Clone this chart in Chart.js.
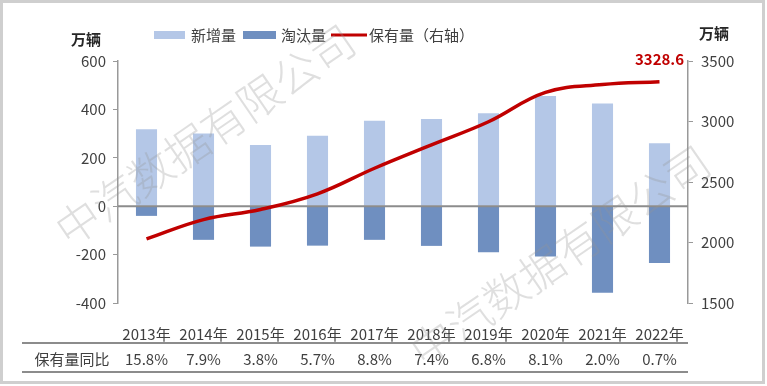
<!DOCTYPE html>
<html>
<head>
<meta charset="utf-8">
<script src="https://cdn.jsdelivr.net/npm/chart.js@4/dist/chart.umd.min.js"></script>
<style>
html,body{margin:0;padding:0;background:#fff;}
#wrap{width:767px;height:386px;position:relative;}
</style>
</head>
<body>
<div id="wrap"><canvas id="c"></canvas></div>
<script>
const years = ['2013年','2014年','2015年','2016年','2017年','2018年','2019年','2020年','2021年','2022年'];
const newAdded = [318, 300, 253, 291, 353, 360, 384, 455, 424, 260];
const retired = [-40, -139, -167, -163, -139, -164, -190, -208, -358, -235];
const stock = [2029.2, 2189.5, 2272.7, 2402.2, 2613.6, 2807.0, 2997.9, 3240.7, 3305.5, 3328.6];
const yoy = ['15.8%','7.9%','3.8%','5.7%','8.8%','7.4%','6.8%','8.1%','2.0%','0.7%'];
const seriesNames = ['新增量','淘汰量','保有量（右轴）'];
const unitLabel = '万辆';
const rowLabel = '保有量同比';
const watermark = '中汽数据有限公司';

const FONT = '"Noto Sans CJK SC", "Noto Sans", sans-serif';
const TXT = '#404040';

const extras = {
  id: 'extras',
  beforeDatasetDraw(chart, args) {
    if (args.index !== 2) return;
    const {ctx, chartArea} = chart;
    const y0 = chart.scales.y.getPixelForValue(0);
    ctx.save();
    ctx.strokeStyle = '#8c8c8c';
    ctx.lineWidth = 2;
    ctx.beginPath();
    ctx.moveTo(chartArea.left, y0);
    ctx.lineTo(chartArea.right, y0);
    ctx.stroke();
    ctx.restore();
  },
  afterDraw(chart) {
    const {ctx, chartArea} = chart;
    const xs = chart.scales.x;
    ctx.save();
    // legend
    ctx.font = '15px ' + FONT;
    ctx.textBaseline = 'middle';
    ctx.fillStyle = TXT;
    const ds = chart.data.datasets;
    const ly = 35;
    ctx.fillStyle = ds[0].backgroundColor; ctx.fillRect(154, ly - 4, 31, 8);
    ctx.fillStyle = TXT; ctx.fillText(ds[0].label, 191, ly);
    ctx.fillStyle = ds[1].backgroundColor; ctx.fillRect(243, ly - 4, 33, 8);
    ctx.fillStyle = TXT; ctx.fillText(ds[1].label, 281, ly);
    ctx.strokeStyle = ds[2].borderColor; ctx.lineWidth = 3;
    ctx.beginPath(); ctx.moveTo(331, ly); ctx.lineTo(367, ly); ctx.stroke();
    ctx.fillStyle = TXT; ctx.fillText(ds[2].label, 369, ly);
    // units
    ctx.font = 'bold 15px ' + FONT;
    ctx.fillStyle = '#262626';
    ctx.textAlign = 'center';
    ctx.fillText(unitLabel, 86, 39);
    ctx.fillText(unitLabel, 714, 33);
    // last value label
    const meta = chart.getDatasetMeta(2);
    const last = meta.data[meta.data.length - 1];
    ctx.fillStyle = '#C00000';
    ctx.font = 'bold 15px ' + FONT;
    ctx.fillText(String(stock[stock.length - 1]), last.x, last.y - 22);
    // table
    ctx.strokeStyle = '#8c8c8c';
    ctx.lineWidth = 2;
    ctx.beginPath(); ctx.moveTo(22, 343); ctx.lineTo(chartArea.right, 343); ctx.stroke();
    ctx.beginPath(); ctx.moveTo(22, 372); ctx.lineTo(chartArea.right, 372); ctx.stroke();
    ctx.font = '15px ' + FONT;
    ctx.fillStyle = TXT;
    ctx.fillText(rowLabel, 72, 359);
    yoy.forEach((v, i) => ctx.fillText(v, xs.getPixelForValue(i), 359));
    // watermark
    ctx.font = '300 44px ' + FONT;
    ctx.fillStyle = 'rgba(150,150,150,0.30)';
    [[205,135],[560,256]].forEach(([cx, cy]) => {
      ctx.save();
      ctx.translate(cx, cy);
      ctx.rotate(-34.5 * Math.PI / 180);
      ctx.fillText(watermark, 0, 0);
      ctx.restore();
    });
    // frame
    ctx.strokeStyle = '#cfcfcf';
    ctx.lineWidth = 3;
    ctx.strokeRect(1.5, 1.5, 762, 381);
    ctx.restore();
  }
};

new Chart(document.getElementById('c'), {
  data: {
    labels: years,
    datasets: [
      { type: 'bar', label: seriesNames[0], data: newAdded, backgroundColor: '#B4C7E7', yAxisID: 'y', order: 1,
        barPercentage: 0.37, categoryPercentage: 1 },
      { type: 'bar', label: seriesNames[1], data: retired, backgroundColor: '#6F8FC0', yAxisID: 'y', order: 1,
        barPercentage: 0.37, categoryPercentage: 1 },
      { type: 'line', label: seriesNames[2], data: stock, borderColor: '#C00000', borderWidth: 3.5, yAxisID: 'y1',
        pointRadius: 0, tension: 0.4, fill: false, order: 0 }
    ]
  },
  options: {
    responsive: true,
    maintainAspectRatio: false,
    animation: false,
    layout: { padding: { top: 61, left: 0, right: 0, bottom: 0 } },
    plugins: { legend: { display: false }, tooltip: { enabled: false } },
    scales: {
      x: {
        stacked: true,
        grid: { display: false },
        border: { display: false },
        ticks: { color: TXT, font: { family: FONT, size: 15 }, padding: 14, maxRotation: 0 },
        afterFit(s) { s.height = 83; }
      },
      y: {
        stacked: true,
        position: 'left',
        min: -400, max: 600,
        ticks: { stepSize: 200, color: TXT, font: { family: FONT, size: 15 }, padding: 7,
          callback: v => String(v) },
        grid: { drawOnChartArea: false, tickLength: 5, tickColor: '#999' },
        border: { display: true, color: '#999', width: 1.5 },
        afterFit(s) { s.width = 118; }
      },
      y1: {
        position: 'right',
        min: 1500, max: 3500,
        ticks: { stepSize: 500, color: TXT, font: { family: FONT, size: 15 }, padding: 8,
          callback: v => String(v) },
        grid: { drawOnChartArea: false, tickLength: 5, tickColor: '#999' },
        border: { display: true, color: '#999', width: 1.5 },
        afterFit(s) { s.width = 79; }
      }
    }
  },
  plugins: [extras]
});
</script>
</body>
</html>
